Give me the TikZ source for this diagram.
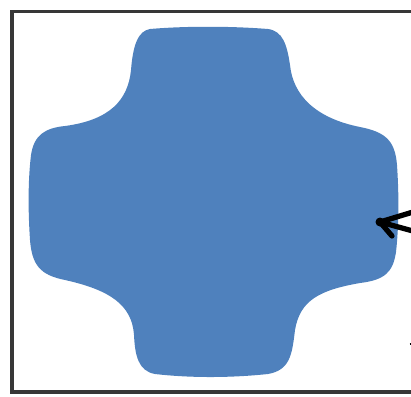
\documentclass[tikz,border=0pt]{standalone}
\usepackage{tikz}
\usetikzlibrary{arrows.meta, positioning}
\definecolor{blobblue}{RGB}{79, 129, 189}
\definecolor{framegrey}{RGB}{55, 55, 55}
\tikzset{
  frameline/.style={line width=1.8pt, framegrey},
  penstroke/.style={line width=3pt, black, line cap=round, line join=round}
}

\begin{document}
\begin{tikzpicture}[x=0.02cm, y=-0.02cm]
    \useasboundingbox (0,0) rectangle (411,396);

    % frame (right edge runs off the picture)
    \draw[frameline] (411,11.5) -- (12,11.5) -- (12,392) -- (411,392);

    % cross-shaped blob
    \fill[blobblue] (150,29) .. controls (185,26) and (230,26) .. (268,29)
        .. controls (283,31) and (287,45) .. (290,65)
        .. controls (293,95) and (315,118) .. (360,127)
        .. controls (385,132) and (395,140) .. (397,165)
        .. controls (399,195) and (399,225) .. (396,252)
        .. controls (393,272) and (385,280) .. (360,283)
        .. controls (320,290) and (300,300) .. (295,330)
        .. controls (292,355) and (290,370) .. (268,374)
        .. controls (230,378) and (190,378) .. (155,374)
        .. controls (138,371) and (135,355) .. (134,335)
        .. controls (132,305) and (110,290) .. (65,280)
        .. controls (40,275) and (32,265) .. (30,240)
        .. controls (28,210) and (28,180) .. (31,155)
        .. controls (34,135) and (45,128) .. (65,126)
        .. controls (110,120) and (128,100) .. (131,70)
        .. controls (133,45) and (138,31) .. (150,29) -- cycle;

    % hand-drawn arrow
    \coordinate (tip) at (380,222);
    \coordinate (upper) at (413,212);
    \coordinate (middle) at (413,231);
    \coordinate (lower) at (392,236);
    \draw[penstroke] (upper) -- (tip) -- (lower);
    \draw[penstroke] (tip) -- (middle);
    \fill[black] (tip) circle[radius=4.5];

    % mark at the edge
    \coordinate (markA) at (409.5,344);
    \coordinate (markB) at (413,344);
    \draw[line width=1.2pt, black] (markA) -- (markB);
\end{tikzpicture}
\end{document}
